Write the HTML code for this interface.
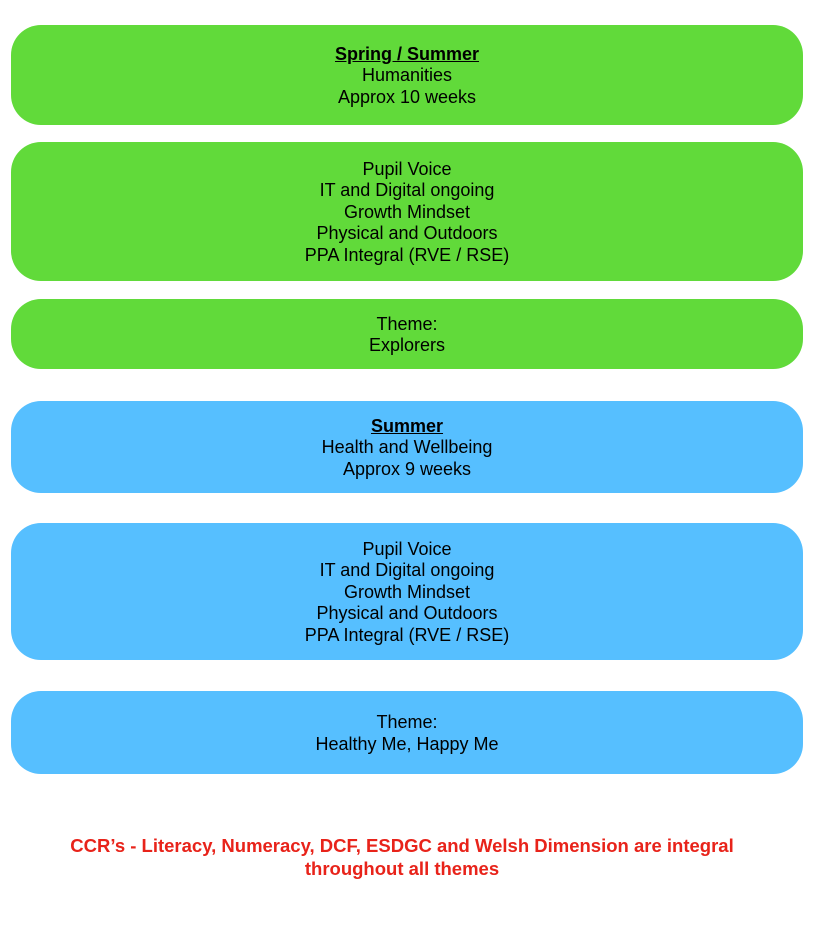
<!DOCTYPE html>
<html><head><style>
body{margin:0;width:818px;height:932px;background:#fff;position:relative;font-family:"Liberation Sans",Arial,sans-serif;}
.b{position:absolute;left:11px;width:792px;border-radius:30px;display:flex;flex-direction:column;justify-content:center;align-items:center;text-align:center;font-size:18px;line-height:21.5px;color:#000;padding-top:2px;box-sizing:border-box}
.g{background:#61da3a}.u{background:#56bfff}
b{text-decoration:underline}
.r{position:absolute;left:0;width:804px;top:834px;text-align:center;color:#e8231a;font-weight:bold;font-size:18.5px;line-height:23px}
</style></head><body>
<div class="b g" style="top:25px;height:100px"><b>Spring / Summer</b><div>Humanities</div><div>Approx 10 weeks</div></div>
<div class="b g" style="top:142px;height:139px"><div>Pupil Voice</div><div>IT and Digital ongoing</div><div>Growth Mindset</div><div>Physical and Outdoors</div><div>PPA Integral (RVE / RSE)</div></div>
<div class="b g" style="top:299px;height:70px"><div>Theme:</div><div>Explorers</div></div>
<div class="b u" style="top:401px;height:92px"><b>Summer</b><div>Health and Wellbeing</div><div>Approx 9 weeks</div></div>
<div class="b u" style="top:523px;height:137px"><div>Pupil Voice</div><div>IT and Digital ongoing</div><div>Growth Mindset</div><div>Physical and Outdoors</div><div>PPA Integral (RVE / RSE)</div></div>
<div class="b u" style="top:691px;height:83px"><div>Theme:</div><div>Healthy Me, Happy Me</div></div>
<div class="r">CCR’s - Literacy, Numeracy, DCF, ESDGC and Welsh Dimension are integral<br>throughout all themes</div>
</body></html>
